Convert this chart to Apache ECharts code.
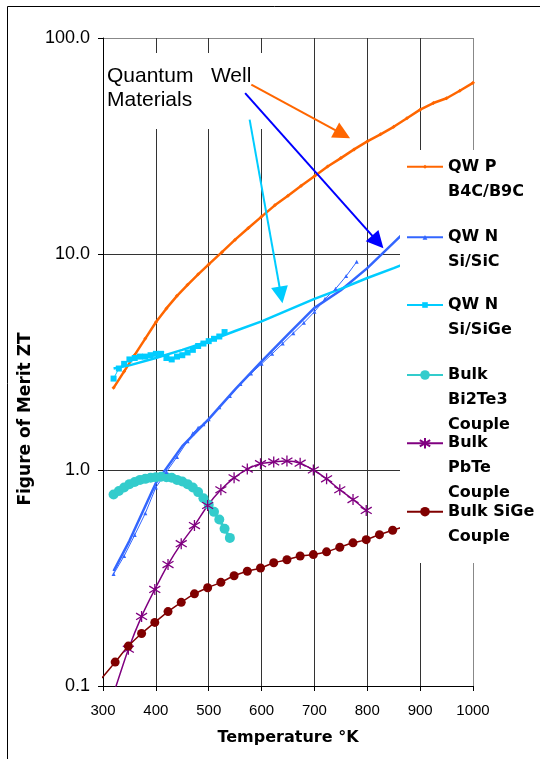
<!DOCTYPE html>
<html>
<head>
<meta charset="utf-8">
<script src="https://cdn.jsdelivr.net/npm/echarts@6/dist/echarts.min.js"></script>
<style>
html,body{margin:0;padding:0;background:#fff}
#chart{width:540px;height:759px}
</style>
</head>
<body>
<div id="chart"></div>
<script>
// temperatures (K) and figure of merit ZT
var qwpT = [320,340,360,380,400,420,440,460,480,500,525,550,575,600,625,650,675,700,725,750,775,800,825,850,875,900,925,950,975,1000];
var qwpZT = [2.4,2.86,3.41,4.06,4.83,5.6,6.4,7.2,8.05,8.95,10.2,11.65,13.2,14.9,16.8,18.6,20.7,22.9,25.4,27.8,30.5,33.2,35.8,38.8,42.5,46.6,50,52.6,57,62];

var sicFitT = [320,350,400,450,500,550,600,650,700,750,800,850,880];
var sicFitZT = [0.34,0.47,0.87,1.29,1.72,2.36,3.18,4.24,5.63,6.8,8.6,11.3,13.3];
var sicT = [320,340,360,380,400,420,440,460,470,480,490,500,520,540,560,580,600,620,640,660,680,700,720,740,760,780];
var sicZT = [0.33,0.4,0.5,0.63,0.83,0.98,1.15,1.36,1.48,1.57,1.63,1.72,1.95,2.2,2.5,2.8,3.1,3.45,3.85,4.3,4.8,5.4,6.2,6.9,7.9,9.2];

var sigeFitT = [320,350,400,450,500,550,600,650,700,750,800,850,880];
var sigeFitZT = [2.95,3.05,3.3,3.6,3.95,4.4,4.88,5.5,6.2,6.9,7.74,8.6,9.2];
var sigeT = [320,330,340,350,360,370,380,390,400,410,420,430,440,450,460,470,480,490,500,510,520,530];
var sigeZT = [2.65,2.95,3.1,3.25,3.3,3.35,3.35,3.4,3.45,3.45,3.3,3.25,3.35,3.4,3.5,3.6,3.75,3.85,3.95,4.05,4.15,4.35];

var bteT = [320,330,340,350,360,370,380,390,400,410,420,430,440,450,460,470,480,490,500,510,520,530,540];
var bteZT = [0.77,0.8,0.83,0.86,0.88,0.9,0.91,0.92,0.925,0.93,0.925,0.92,0.9,0.885,0.86,0.83,0.79,0.74,0.69,0.64,0.59,0.535,0.485];

var pbteT = [323,348,373,398,423,448,473,498,523,548,573,598,623,648,673,698,723,748,773,798];
var pbteZT = [0.097,0.148,0.21,0.28,0.365,0.456,0.553,0.685,0.81,0.92,1.01,1.07,1.09,1.1,1.075,1.0,0.91,0.81,0.73,0.65];

var bsigeT = [298,323,348,373,398,423,448,473,498,523,548,573,598,623,648,673,698,723,748,773,798,823,848,873];
var bsigeZT = [0.109,0.129,0.153,0.175,0.197,0.221,0.244,0.267,0.285,0.302,0.324,0.34,0.352,0.372,0.384,0.4,0.406,0.418,0.439,0.46,0.476,0.502,0.526,0.55];

var xTicks = [300,400,500,600,700,800,900,1000];

// annotation arrows: [fromT, fromZT, toT, toZT]
var arrowOrange = [580.6,60.8,753.3,35.9];
var arrowBlue = [568.9,55.6,819.8,11.37];
var arrowCyan = [577.4,41.9,636.7,6.46];

function pairs(xs, ys) {
	return xs.map(function (x, i) { return [x, ys[i]]; });
}

var asterisk = 'path://M5,0L5,10M0,2L10,8M0,8L10,2';

var nameP = 'QW P\nB4C/B9C';
var nameSiC = 'QW N\nSi/SiC';
var nameSiGe = 'QW N\nSi/SiGe';
var nameBte = 'Bulk\nBi2Te3\nCouple';
var namePbte = 'Bulk\nPbTe\nCouple';
var nameBsige = 'Bulk SiGe\nCouple';

function arrow(a, color) {
	return [
		{coord: [a[0], a[1]], lineStyle: {color: color, width: 2, type: 'solid'}, itemStyle: {color: color}},
		{coord: [a[2], a[3]], lineStyle: {color: color, width: 2, type: 'solid'}, itemStyle: {color: color}}
	];
}

// one legend per series; empty leading lines keep the marker on the first text line
function legendFor(name, iconY, lines, iconH) {
	var lh = 25;
	return {
		data: [name],
		left: 406,
		top: iconY - (2 * lines - 1) * lh / 2,
		orient: 'vertical',
		padding: 0,
		itemGap: 0,
		itemWidth: 36,
		itemHeight: iconH,
		selectedMode: false,
		z: 8,
		formatter: function (n) {
			var pre = '';
			for (var i = 1; i < lines; i++) pre += '\n';
			return pre + n;
		},
		textStyle: {
			fontFamily: 'DejaVu Sans',
			fontWeight: 'bold',
			fontSize: 16,
			lineHeight: lh,
			color: '#000'
		}
	};
}

var chart = echarts.init(document.getElementById('chart'));

var option = {
	animation: false,
	backgroundColor: '#fff',
	grid: {left: 103, right: 67, top: 38, bottom: 73, containLabel: false},
	xAxis: {
		type: 'value',
		min: 300,
		max: 1000,
		interval: 100,
		name: 'Temperature °K',
		nameLocation: 'middle',
		nameGap: 44,
		nameTextStyle: {fontFamily: 'DejaVu Sans', fontWeight: 'bold', fontSize: 16, color: '#000'},
		axisLine: {show: true, lineStyle: {color: '#000', width: 1}},
		axisTick: {show: true, length: 5, lineStyle: {color: '#000'}},
		axisLabel: {
			margin: 17, color: '#000', fontFamily: 'Liberation Sans', fontSize: 15,
			formatter: function (v) { return xTicks.indexOf(v) >= 0 ? String(v) : ''; }
		},
		splitLine: {show: true, lineStyle: {color: ['#333','#333','#333','#333','#333','#333','#333','#888'], width: 1}}
	},
	yAxis: {
		type: 'log',
		logBase: 10,
		min: 0.1,
		max: 100,
		name: 'Figure of Merit ZT',
		nameLocation: 'middle',
		nameGap: 48,
		nameTextStyle: {fontFamily: 'DejaVu Sans', fontWeight: 'bold', fontSize: 17, color: '#000', padding: [0, 114, 0, 0]},
		axisLine: {show: true, lineStyle: {color: '#000', width: 1}},
		axisTick: {show: true, length: 5, lineStyle: {color: '#000'}},
		axisLabel: {
			margin: 13, color: '#000', fontFamily: 'Liberation Sans', fontSize: 18,
			formatter: function (v) { return Number(v).toFixed(1); }
		},
		splitLine: {show: true, lineStyle: {color: ['#333','#333','#333','#888'], width: 1}}
	},
	legend: [
		legendFor(nameP, 166.7, 2, 5),
		legendFor(nameSiC, 237.3, 2, 6),
		legendFor(nameSiGe, 305, 2, 7),
		legendFor(nameBte, 375, 3, 12),
		legendFor(namePbte, 443.3, 3, 13),
		legendFor(nameBsige, 511.7, 2, 12)
	],
	graphic: [
		// outer frame
		{type: 'rect', z: 20, silent: true, shape: {x: 7.5, y: 6.5, width: 700, height: 900}, style: {fill: 'none', stroke: '#000', lineWidth: 1}},
		// white box behind the annotation text
		{type: 'rect', z: 1, silent: true, shape: {x: 105, y: 53, width: 165, height: 76}, style: {fill: '#fff'}},
		{type: 'text', z: 3, silent: true, left: 107, top: 64,
			style: {text: 'Quantum   Well\nMaterials', font: '21px "Liberation Sans"', lineHeight: 24, fill: '#000'}},
		// white legend box
		{type: 'rect', z: 7, silent: true, shape: {x: 400, y: 150, width: 140, height: 413}, style: {fill: '#fff'}}
	],
	series: [
		{
			name: nameBte, type: 'line', data: pairs(bteT, bteZT),
			symbol: 'circle', symbolSize: 10, showAllSymbol: true,
			lineStyle: {color: '#33CCCC', width: 3}, itemStyle: {color: '#33CCCC'}
		},
		{
			name: nameP, type: 'line', data: pairs(qwpT, qwpZT),
			symbol: 'diamond', symbolSize: 4, showAllSymbol: true,
			lineStyle: {color: '#FF6600', width: 2.5}, itemStyle: {color: '#FF6600'},
			markLine: {
				silent: true,
				animation: false,
				symbol: ['none', 'triangle'],
				symbolSize: 17,
				label: {show: false},
				data: [arrow(arrowOrange, '#FF6600'), arrow(arrowBlue, '#0000FF'), arrow(arrowCyan, '#00CCFF')]
			}
		},
		{
			name: 'sic-fit', type: 'line', data: pairs(sicFitT, sicFitZT), symbol: 'none',
			lineStyle: {color: '#3366FF', width: 2.5}, itemStyle: {color: '#3366FF'}
		},
		{
			name: nameSiC, type: 'line', data: pairs(sicT, sicZT),
			symbol: 'triangle', symbolSize: 4, showAllSymbol: true,
			lineStyle: {color: '#3366FF', width: 1}, itemStyle: {color: '#3366FF'}
		},
		{
			name: 'sige-fit', type: 'line', data: pairs(sigeFitT, sigeFitZT), symbol: 'none',
			lineStyle: {color: '#00CCFF', width: 2.5}, itemStyle: {color: '#00CCFF'}
		},
		{
			name: nameSiGe, type: 'line', data: pairs(sigeT, sigeZT),
			symbol: 'rect', symbolSize: 6, showAllSymbol: true,
			lineStyle: {color: '#00CCFF', width: 1}, itemStyle: {color: '#00CCFF'}
		},
		{
			name: namePbte, type: 'line', data: pairs(pbteT, pbteZT), smooth: 0.2,
			symbol: asterisk, symbolSize: 11, showAllSymbol: true,
			lineStyle: {color: '#800080', width: 1.5},
			itemStyle: {color: '#800080', borderColor: '#800080', borderWidth: 1.3}
		},
		{
			name: nameBsige, type: 'line', data: pairs(bsigeT, bsigeZT), smooth: 0.2,
			symbol: 'circle', symbolSize: 9, showAllSymbol: true,
			lineStyle: {color: '#800000', width: 1.5}, itemStyle: {color: '#800000'}
		}
	]
};

chart.setOption(option);
</script>
</body>
</html>
